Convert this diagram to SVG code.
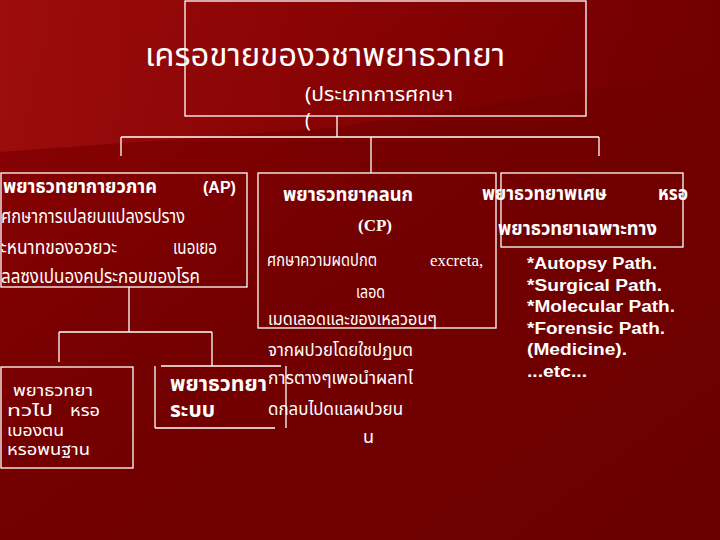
<svg xmlns="http://www.w3.org/2000/svg" width="720" height="540" viewBox="0 0 720 540">
<defs>
<linearGradient id="bg" x1="0" y1="0" x2="1" y2="1">
<stop offset="0" stop-color="#8e0202"/>
<stop offset="0.45" stop-color="#740000"/>
<stop offset="1" stop-color="#6a0000"/>
</linearGradient>
<linearGradient id="sweep" x1="0" y1="0" x2="1" y2="0">
<stop offset="0" stop-color="#a21010" stop-opacity="0.75"/>
<stop offset="0.5" stop-color="#920606" stop-opacity="0.45"/>
<stop offset="1" stop-color="#8a0000" stop-opacity="0"/>
</linearGradient>
<style>
.ln{stroke:#ffffff;stroke-width:1.3;fill:none}
.th{font-family:"Noto Sans Thai","Noto Sans Thai UI","Tahoma","DejaVu Sans",sans-serif;fill:#ffffff}
.thb{font-family:"Noto Sans Thai","Noto Sans Thai UI","Tahoma","DejaVu Sans",sans-serif;fill:#ffffff;font-weight:bold}
.en{font-family:"Liberation Sans",Arial,sans-serif;fill:#ffffff;font-weight:bold}
.tm{font-family:"Liberation Serif","Times New Roman",serif;fill:#ffffff}
</style>
</defs>
<rect x="0" y="0" width="720" height="540" fill="url(#bg)"/>
<path d="M0,0 L720,0 L720,70 L330,128 L0,152 Z" fill="url(#sweep)"/>

<g id="connectors">
<line class="ln" x1="337" y1="116" x2="337" y2="137"/>
<line class="ln" x1="121" y1="137" x2="599" y2="137"/>
<line class="ln" x1="121" y1="137" x2="121" y2="156"/>
<line class="ln" x1="371" y1="137" x2="371" y2="173"/>
<line class="ln" x1="599" y1="137" x2="599" y2="156"/>
<line class="ln" x1="129" y1="287" x2="129" y2="332"/>
<line class="ln" x1="59" y1="332" x2="212" y2="332"/>
<line class="ln" x1="59" y1="332" x2="59" y2="362"/>
<line class="ln" x1="212" y1="332" x2="212" y2="366"/>
</g>

<g id="root">
<rect class="ln" x="185" y="1" width="401" height="115"/>
<text class="th" x="145" y="66" font-size="32" textLength="360" lengthAdjust="spacingAndGlyphs">เครอขายของวชาพยาธวทยา</text>
<text class="th" x="305" y="101" font-size="19" textLength="148" lengthAdjust="spacingAndGlyphs">(ประเภทการศกษา</text>
<text class="th" x="305" y="127" font-size="19">(</text>
</g>

<g id="anatomic">
<rect class="ln" x="1" y="173" width="246" height="114"/>
<text class="thb" x="3" y="193" font-size="19" textLength="154" lengthAdjust="spacingAndGlyphs">พยาธวทยากายวภาค</text>
<text class="en" x="203" y="193" font-size="16">(AP)</text>
<text class="th" x="1" y="223" font-size="19" textLength="184" lengthAdjust="spacingAndGlyphs">ศกษาการเปลยนแปลงรปราง</text>
<text class="th" x="1" y="254" font-size="19" textLength="116" lengthAdjust="spacingAndGlyphs">ะหนาทของอวยวะ</text>
<text class="th" x="173" y="254" font-size="19" textLength="44" lengthAdjust="spacingAndGlyphs">เนอเยอ</text>
<text class="th" x="1" y="283" font-size="19" textLength="199" lengthAdjust="spacingAndGlyphs">ลลซงเปนองคประกอบของโรค</text>
</g>

<g id="clinical">
<rect class="ln" x="258" y="173" width="238" height="155"/>
<text class="thb" x="283" y="201" font-size="19" textLength="130" lengthAdjust="spacingAndGlyphs">พยาธวทยาคลนก</text>
<text class="tm" x="358" y="231" font-size="17" font-weight="bold">(CP)</text>
<text class="th" x="267" y="266" font-size="18" textLength="110" lengthAdjust="spacingAndGlyphs">ศกษาความผดปกต</text>
<text class="tm" x="430" y="266" font-size="17">excreta,</text>
<text class="th" x="356" y="298" font-size="18" textLength="29" lengthAdjust="spacingAndGlyphs">เลอด</text>
<text class="th" x="268" y="325" font-size="18" textLength="169" lengthAdjust="spacingAndGlyphs">เมดเลอดและของเหลวอนๆ</text>
<text class="th" x="268" y="356" font-size="18" textLength="145" lengthAdjust="spacingAndGlyphs">จากผปวยโดยใชปฏบต</text>
<text class="th" x="268" y="384" font-size="18" textLength="145" lengthAdjust="spacingAndGlyphs">การตางๆเพอนำผลทไ</text>
<text class="th" x="268" y="415" font-size="18" textLength="135" lengthAdjust="spacingAndGlyphs">ดกลบไปดแลผปวยน</text>
<text class="th" x="363" y="443" font-size="18">น</text>
</g>

<g id="special">
<rect class="ln" x="501" y="173" width="182" height="74"/>
<text class="thb" x="482" y="200" font-size="19" textLength="125" lengthAdjust="spacingAndGlyphs">พยาธวทยาพเศษ</text>
<text class="thb" x="658" y="200" font-size="19" textLength="30" lengthAdjust="spacingAndGlyphs">หรอ</text>
<text class="thb" x="498" y="235" font-size="19" textLength="159" lengthAdjust="spacingAndGlyphs">พยาธวทยาเฉพาะทาง</text>
</g>

<g id="examples">
<text class="en" x="527" y="269" font-size="16" textLength="130" lengthAdjust="spacingAndGlyphs">*Autopsy Path.</text>
<text class="en" x="527" y="291" font-size="16" textLength="135" lengthAdjust="spacingAndGlyphs">*Surgical Path.</text>
<text class="en" x="527" y="312" font-size="16" textLength="148" lengthAdjust="spacingAndGlyphs">*Molecular Path.</text>
<text class="en" x="527" y="334" font-size="16" textLength="138" lengthAdjust="spacingAndGlyphs">*Forensic Path.</text>
<text class="en" x="527" y="355" font-size="16" textLength="100" lengthAdjust="spacingAndGlyphs">(Medicine).</text>
<text class="en" x="527" y="377" font-size="16" textLength="60" lengthAdjust="spacingAndGlyphs">...etc...</text>
</g>

<g id="general">
<rect class="ln" x="1" y="367" width="132" height="101"/>
<text class="th" x="13" y="396" font-size="15" textLength="80" lengthAdjust="spacingAndGlyphs">พยาธวทยา</text>
<text class="th" x="7" y="416" font-size="15" textLength="46" lengthAdjust="spacingAndGlyphs">ทวไป</text>
<text class="th" x="70" y="416" font-size="15" textLength="30" lengthAdjust="spacingAndGlyphs">หรอ</text>
<text class="th" x="7" y="436" font-size="15" textLength="57" lengthAdjust="spacingAndGlyphs">เบองตน</text>
<text class="th" x="7" y="455" font-size="15" textLength="83" lengthAdjust="spacingAndGlyphs">หรอพนฐาน</text>
</g>

<g id="systemic">
<line class="ln" x1="161" y1="366" x2="281" y2="366"/>
<line class="ln" x1="155" y1="366" x2="155" y2="428"/>
<line class="ln" x1="155" y1="428" x2="275" y2="428"/>
<line class="ln" x1="286" y1="366" x2="286" y2="428"/>
<text class="thb" x="170" y="391" font-size="21" textLength="97" lengthAdjust="spacingAndGlyphs">พยาธวทยา</text>
<text class="thb" x="170" y="417" font-size="21" textLength="45" lengthAdjust="spacingAndGlyphs">ระบบ</text>
</g>
</svg>
